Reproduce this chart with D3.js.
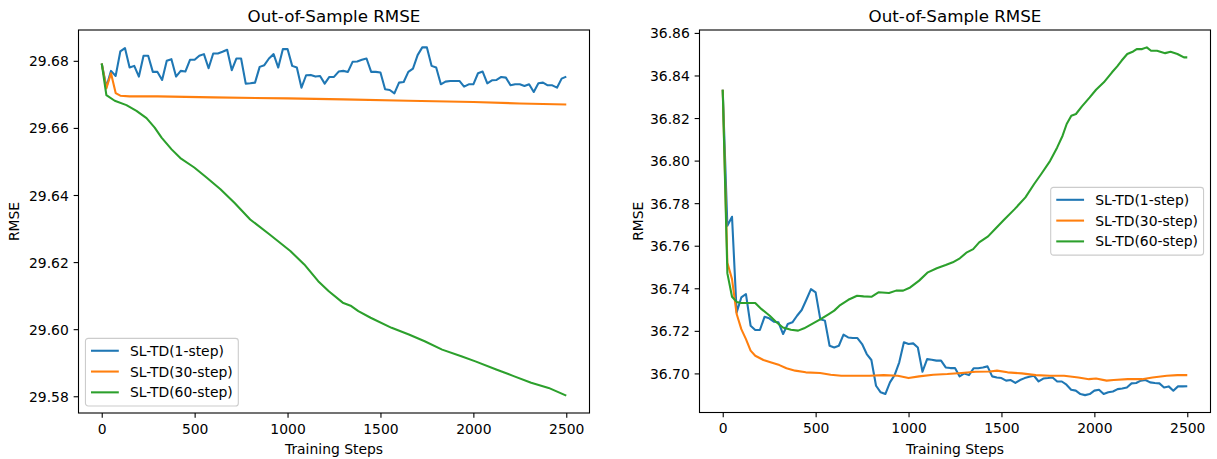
<!DOCTYPE html>
<html>
<head>
<meta charset="utf-8">
<script src="https://d3js.org/d3.v7.min.js"></script>
<style>
  body { margin: 0; background: #fff; }
  text { font-family: "DejaVu Sans", sans-serif; fill: #000; }
</style>
</head>
<body>
<div id="chart"></div>
<script>
// training steps where the 1-step runs were logged
const steps = d3.range(0, 2501, 25)
const seriesNames = ["SL-TD(1-step)", "SL-TD(30-step)", "SL-TD(60-step)"]
const colors = ["#1f77b4", "#ff7f0e", "#2ca02c"]
const xTicks = [0, 500, 1000, 1500, 2000, 2500]
const leftYTicks = [29.58, 29.60, 29.62, 29.64, 29.66, 29.68]
const rightYTicks = [36.70, 36.72, 36.74, 36.76, 36.78, 36.80, 36.82, 36.84, 36.86]

// left panel
const leftBlue = [
  29.6792, 29.6722, 29.6770, 29.6755, 29.6828, 29.6838, 29.6780, 29.6785, 29.6753, 29.6815,
  29.6815, 29.6767, 29.6767, 29.6743, 29.6800, 29.6805, 29.6753, 29.6770, 29.6768, 29.6803,
  29.6803, 29.6815, 29.6820, 29.6778, 29.6822, 29.6822, 29.6827, 29.6833, 29.6772, 29.6807,
  29.6807, 29.6732, 29.6733, 29.6735, 29.6782, 29.6787, 29.6807, 29.6820, 29.6780, 29.6835,
  29.6835, 29.6785, 29.6780, 29.6720, 29.6757, 29.6758, 29.6753, 29.6755, 29.6732, 29.6752,
  29.6752, 29.6768, 29.6770, 29.6767, 29.6797, 29.6798, 29.6803, 29.6807, 29.6767, 29.6767,
  29.6765, 29.6715, 29.6713, 29.6703, 29.6735, 29.6737, 29.6767, 29.6777, 29.6817, 29.6840,
  29.6840, 29.6785, 29.6780, 29.6730, 29.6738, 29.6740, 29.6740, 29.6740, 29.6723, 29.6730,
  29.6730, 29.6763, 29.6768, 29.6733, 29.6742, 29.6743, 29.6752, 29.6750, 29.6727, 29.6730,
  29.6730, 29.6725, 29.6730, 29.6707, 29.6733, 29.6735, 29.6727, 29.6727, 29.6720, 29.6747,
  29.6753
]
const leftOrange = [
  [0, 29.6792], [25, 29.6718], [50, 29.6763], [75, 29.6704], [100, 29.6696], [150, 29.6694],
  [300, 29.6694], [600, 29.6691], [1000, 29.6688], [1300, 29.6685], [1650, 29.6681],
  [2000, 29.6677], [2250, 29.6673], [2500, 29.6670]
]
const leftGreen = [
  [0, 29.6792], [25, 29.6698], [70, 29.6681], [133, 29.6668], [187, 29.6651], [241, 29.6629],
  [285, 29.6601], [322, 29.6571], [376, 29.6536], [423, 29.6510], [498, 29.6482], [564, 29.6452],
  [639, 29.6417], [714, 29.6377], [799, 29.6327], [902, 29.6283], [1015, 29.6233], [1090, 29.6193],
  [1165, 29.6143], [1222, 29.6113], [1297, 29.6079], [1343, 29.6069], [1381, 29.6054],
  [1447, 29.6034], [1560, 29.6004], [1653, 29.5984], [1738, 29.5964], [1832, 29.5939],
  [1935, 29.5919], [2011, 29.5904], [2123, 29.5880], [2217, 29.5860], [2311, 29.5840],
  [2405, 29.5825], [2500, 29.5802]
]

// right panel
const rightBlue = [
  36.8333, 36.7694, 36.7736, 36.7287, 36.7357, 36.7373, 36.7224, 36.7204, 36.7204, 36.7266,
  36.7259, 36.7243, 36.7240, 36.7185, 36.7232, 36.7240, 36.7271, 36.7298, 36.7346, 36.7396,
  36.7381, 36.7255, 36.7248, 36.7130, 36.7122, 36.7130, 36.7182, 36.7169, 36.7166, 36.7166,
  36.7138, 36.7091, 36.7063, 36.6942, 36.6911, 36.6903, 36.6958, 36.6992, 36.7052, 36.7146,
  36.7138, 36.7141, 36.7122, 36.7008, 36.7067, 36.7064, 36.7060, 36.7060, 36.7028, 36.7025,
  36.7025, 36.6986, 36.7000, 36.6992, 36.7024, 36.7024, 36.7028, 36.7033, 36.6986, 36.6981,
  36.6978, 36.6966, 36.6969, 36.6955, 36.6969, 36.6978, 36.6984, 36.6989, 36.6962, 36.6976,
  36.6978, 36.6981, 36.6962, 36.6962, 36.6947, 36.6923, 36.6919, 36.6903, 36.6898, 36.6903,
  36.6919, 36.6923, 36.6903, 36.6911, 36.6915, 36.6926, 36.6929, 36.6934, 36.6953, 36.6955,
  36.6966, 36.6969, 36.6958, 36.6955, 36.6953, 36.6934, 36.6939, 36.6919, 36.6939, 36.6939,
  36.6940
]
const rightOrange = [
  [0, 36.8333], [25, 36.7520], [50, 36.7443], [75, 36.7279], [100, 36.7208], [125, 36.7161],
  [150, 36.7107], [175, 36.7083], [219, 36.7063], [257, 36.7052], [305, 36.7039], [343, 36.7024],
  [390, 36.7013], [447, 36.7005], [524, 36.7002], [581, 36.6994], [638, 36.6989], [714, 36.6989],
  [790, 36.6989], [866, 36.6992], [942, 36.6989], [1000, 36.6978], [1057, 36.6986], [1133, 36.6994],
  [1209, 36.6997], [1285, 36.7002], [1361, 36.7008], [1438, 36.7009], [1476, 36.7013],
  [1533, 36.7005], [1609, 36.7000], [1685, 36.6992], [1761, 36.6989], [1837, 36.6989],
  [1914, 36.6981], [1971, 36.6973], [2009, 36.6976], [2066, 36.6966], [2104, 36.6969],
  [2180, 36.6973], [2256, 36.6973], [2313, 36.6981], [2390, 36.6989], [2447, 36.6992],
  [2500, 36.6992]
]
const rightGreen = [
  [0, 36.8333], [25, 36.7470], [50, 36.7360], [75, 36.7336], [100, 36.7331], [150, 36.7331],
  [175, 36.7331], [209, 36.7302], [253, 36.7271], [286, 36.7243], [324, 36.7216], [367, 36.7205],
  [406, 36.7201], [438, 36.7212], [486, 36.7235], [527, 36.7255], [571, 36.7279], [600, 36.7295],
  [628, 36.7318], [676, 36.7346], [723, 36.7365], [758, 36.7362], [800, 36.7360], [838, 36.7381],
  [895, 36.7378], [933, 36.7389], [971, 36.7389], [1009, 36.7404], [1057, 36.7436], [1104, 36.7475],
  [1152, 36.7494], [1200, 36.7509], [1238, 36.7522], [1276, 36.7541], [1314, 36.7569],
  [1348, 36.7584], [1380, 36.7616], [1428, 36.7644], [1466, 36.7679], [1514, 36.7722],
  [1571, 36.7772], [1629, 36.7827], [1676, 36.7890], [1714, 36.7937], [1762, 36.7999],
  [1800, 36.8062], [1829, 36.8117], [1851, 36.8172], [1876, 36.8211], [1901, 36.8219],
  [1933, 36.8255], [1975, 36.8297], [2009, 36.8333], [2051, 36.8368], [2095, 36.8415],
  [2123, 36.8443], [2146, 36.8469], [2177, 36.8501], [2209, 36.8513], [2228, 36.8524],
  [2257, 36.8524], [2282, 36.8532], [2305, 36.8516], [2337, 36.8516], [2381, 36.8505],
  [2410, 36.8511], [2447, 36.8501], [2482, 36.8485], [2500, 36.8485]
]

const W = 1217, H = 459
const fs = 13.9   // tick / label font size
const tick = 4.86

const svg = d3.select("#chart").append("svg")
  .attr("width", W)
  .attr("height", H)

// matplotlib style 5% margins around the data
function padded(ext) {
  const m = (ext[1] - ext[0]) * 0.05
  return [ext[0] - m, ext[1] + m]
}

function panel(box, series, yTicks, legendLoc, yLabelX) {
  const all = series.flat()
  const x = d3.scaleLinear()
    .domain(padded(d3.extent(all, d => d[0])))
    .range([box.left, box.right])
  const y = d3.scaleLinear()
    .domain(padded(d3.extent(all, d => d[1])))
    .range([box.bottom, box.top])

  const g = svg.append("g")

  // X axis
  const xAxis = g.append("g")
    .attr("transform", "translate(0," + box.bottom + ")")
    .call(d3.axisBottom(x).tickValues(xTicks).tickFormat(d3.format("d"))
      .tickSize(tick).tickPadding(tick).tickSizeOuter(0))
  xAxis.select(".domain").remove()
  xAxis.selectAll("text").attr("dy", "0.81em").style("font-size", fs + "px")
  xAxis.selectAll("line").attr("stroke", "#000").attr("stroke-width", 1.1)

  // Y axis
  const yAxis = g.append("g")
    .attr("transform", "translate(" + box.left + ",0)")
    .call(d3.axisLeft(y).tickValues(yTicks).tickFormat(d3.format(".2f"))
      .tickSize(tick).tickPadding(tick).tickSizeOuter(0))
  yAxis.select(".domain").remove()
  yAxis.selectAll("text").attr("dy", "0.36em").style("font-size", fs + "px")
  yAxis.selectAll("line").attr("stroke", "#000").attr("stroke-width", 1.1)

  // lines
  const line = d3.line()
    .x(d => x(d[0]))
    .y(d => y(d[1]))
  g.selectAll(".series")
    .data(series)
    .enter()
    .append("path")
      .attr("d", line)
      .attr("fill", "none")
      .attr("stroke", (d, i) => colors[i])
      .attr("stroke-width", 2.08)
      .attr("stroke-linejoin", "round")

  // frame
  g.append("rect")
    .attr("x", box.left)
    .attr("y", box.top)
    .attr("width", box.right - box.left)
    .attr("height", box.bottom - box.top)
    .attr("fill", "none")
    .attr("stroke", "#000")
    .attr("stroke-width", 1.1)

  // title + labels
  g.append("text")
    .attr("x", (box.left + box.right) / 2)
    .attr("y", 21.5)
    .attr("text-anchor", "middle")
    .style("font-size", "16.7px")
    .text("Out-of-Sample RMSE")

  g.append("text")
    .attr("x", (box.left + box.right) / 2)
    .attr("y", 453.5)
    .attr("text-anchor", "middle")
    .style("font-size", fs + "px")
    .text("Training Steps")

  g.append("text")
    .attr("transform", "translate(" + yLabelX + "," + (box.top + box.bottom) / 2 + ") rotate(-90)")
    .attr("text-anchor", "middle")
    .style("font-size", fs + "px")
    .text("RMSE")

  // LEGEND //
  const pad = 0.4 * fs, handle = 2 * fs, gap = 0.8 * fs, rowH = 20.8
  const leg = g.append("g")
  const frame = leg.append("rect")
  const labels = leg.selectAll("text")
    .data(seriesNames)
    .enter()
    .append("text")
      .attr("x", pad + handle + gap)
      .attr("y", (d, i) => 12.4 + i * rowH)
      .attr("dy", "0.36em")
      .style("font-size", fs + "px")
      .text(d => d)
  leg.selectAll("line")
    .data(seriesNames)
    .enter()
    .append("line")
      .attr("x1", pad)
      .attr("x2", pad + handle)
      .attr("y1", (d, i) => 12.4 + i * rowH)
      .attr("y2", (d, i) => 12.4 + i * rowH)
      .attr("stroke", (d, i) => colors[i])
      .attr("stroke-width", 2.08)
  let maxLen = 0
  labels.each(function () { maxLen = Math.max(maxLen, this.getComputedTextLength()) })
  const lw = pad + handle + gap + maxLen + pad, lh = 67.7
  frame.attr("width", lw).attr("height", lh)
    .attr("rx", 2.8).attr("ry", 2.8)
    .attr("fill", "#fff").attr("fill-opacity", 0.8)
    .attr("stroke", "#cccccc").attr("stroke-width", 1.1)
  let lx, ly
  if (legendLoc === "lower left") {
    lx = box.left + 0.5 * fs
    ly = box.bottom - 0.5 * fs - lh
  } else {
    lx = box.right - 0.5 * fs - lw
    ly = (box.top + box.bottom) / 2 - lh / 2
  }
  leg.attr("transform", "translate(" + lx + "," + ly + ")")
}

panel({left: 78.5, right: 589.5, top: 30, bottom: 413},
  [steps.map((s, i) => [s, leftBlue[i]]), leftOrange, leftGreen],
  leftYTicks, "lower left", 19)

panel({left: 699.5, right: 1210.5, top: 30, bottom: 412.5},
  [steps.map((s, i) => [s, rightBlue[i]]), rightOrange, rightGreen],
  rightYTicks, "center right", 643)
</script>
</body>
</html>
